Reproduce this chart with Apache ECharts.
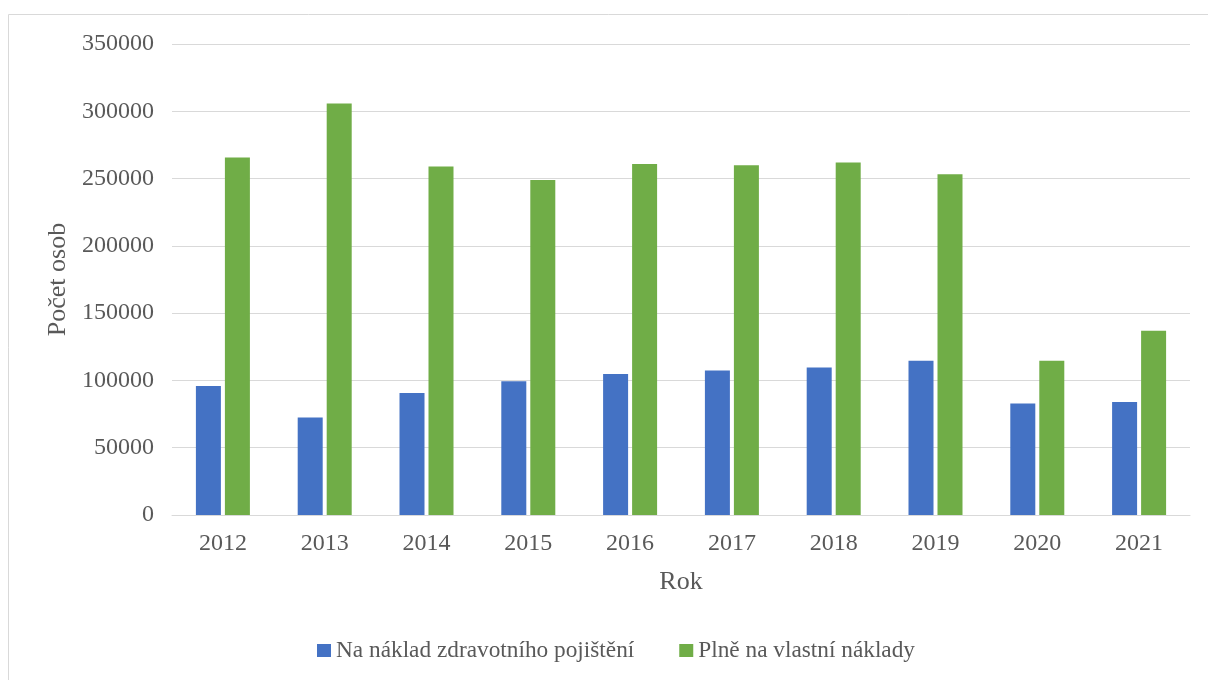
<!DOCTYPE html>
<html>
<head>
<meta charset="utf-8">
<script src="https://cdn.jsdelivr.net/npm/echarts@6/dist/echarts.min.js"></script>
<style>
html,body{margin:0;padding:0;background:#fff;}
#chart{width:1208px;height:680px;}
</style>
</head>
<body>
<div id="chart"></div>
<script>
const years = ['2012','2013','2014','2015','2016','2017','2018','2019','2020','2021'];
const insurance = [95800, 72500, 90600, 99300, 104700, 107400, 109700, 114600, 82900, 83900];
const ownCost = [265600, 305700, 258900, 249000, 260900, 259900, 261900, 253200, 114600, 136900];
const seriesNames = ['Na náklad zdravotního pojištění', 'Plně na vlastní náklady'];
const axisNames = { x: 'Rok', y: 'Počet osob' };

const font = 'Liberation Serif, Times New Roman, serif';
const textColor = '#595959';
const chart = echarts.init(document.getElementById('chart'));
chart.setOption({
  animation: false,
  graphic: [{
    type: 'rect',
    shape: { x: 8.5, y: 14.5, width: 1400, height: 900 },
    style: { fill: 'none', stroke: '#d9d9d9', lineWidth: 1 },
    silent: true
  }],
  grid: { left: 172, right: 18, top: 44, bottom: 165 },
  legend: {
    left: 312, top: 634,
    itemWidth: 14, itemHeight: 13, itemGap: 45,
    icon: 'rect',
    textStyle: { fontFamily: font, fontSize: 23.3, color: textColor },
    data: seriesNames
  },
  xAxis: {
    type: 'category',
    data: years,
    name: axisNames.x,
    nameLocation: 'middle',
    nameGap: 54,
    nameTextStyle: { fontFamily: font, fontSize: 26, color: textColor },
    axisLine: { lineStyle: { color: '#d9d9d9', width: 1 } },
    axisTick: { show: false },
    axisLabel: { fontFamily: font, fontSize: 24, color: textColor, margin: 17 }
  },
  yAxis: {
    type: 'value',
    min: 0, max: 350000, interval: 50000,
    name: axisNames.y,
    nameLocation: 'middle',
    nameGap: 98,
    nameTextStyle: { fontFamily: font, fontSize: 26, color: textColor },
    axisLine: { show: false },
    axisTick: { show: false },
    splitLine: { lineStyle: { color: '#d9d9d9', width: 1 } },
    axisLabel: { fontFamily: font, fontSize: 24, color: textColor, margin: 18,
      formatter: v => String(v) }
  },
  series: [
    { name: seriesNames[0], type: 'bar', data: insurance, barWidth: 25, barGap: '16%',
      itemStyle: { color: '#4472C4' } },
    { name: seriesNames[1], type: 'bar', data: ownCost, barWidth: 25, barGap: '16%',
      itemStyle: { color: '#70AD47' } }
  ]
});
</script>
</body>
</html>
